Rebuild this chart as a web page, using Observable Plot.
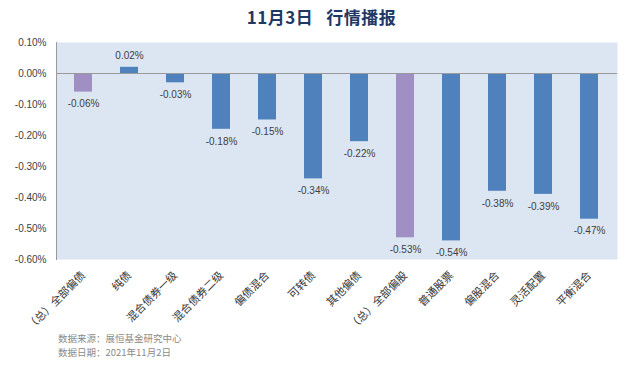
<!DOCTYPE html>
<html>
<head>
<meta charset="utf-8">
<script src="https://cdn.jsdelivr.net/npm/d3@7"></script>
<script src="https://cdn.jsdelivr.net/npm/@observablehq/plot@0.6"></script>
<style>
  html, body { margin: 0; padding: 0; background: #fff; }
  #wrap { position: relative; width: 643px; height: 367px; overflow: hidden; }
  #title { position: absolute; left: 0; top: 6px; width: 643px; text-align: center;
    font-family: "Noto Sans CJK SC", sans-serif; font-weight: bold; font-size: 17px;
    color: #1f3864; line-height: 22px; white-space: pre; letter-spacing: 0.5px; }
  #chart { position: absolute; left: 0; top: 30px; }
  #foot { position: absolute; left: 58px; top: 331px; font-family: "Noto Sans CJK SC", sans-serif;
    font-size: 9.5px; color: #8a8a8a; line-height: 14px; }
</style>
</head>
<body>
<div id="wrap">
  <div id="title">11月3日   行情播报</div>
  <div id="chart"></div>
  <div id="foot">数据来源：展恒基金研究中心<br>数据日期：2021年11月2日</div>
</div>
<script>
const categories = ["（总）全部偏债", "纯债", "混合债券一级", "混合债券二级", "偏债混合", "可转债", "其他偏债", "（总）全部偏股", "普通股票", "偏股混合", "灵活配置", "平衡混合"];
const values = [-0.06, 0.02, -0.03, -0.18, -0.15, -0.34, -0.22, -0.53, -0.54, -0.38, -0.39, -0.47];
const yTicks = [0.1, 0, -0.1, -0.2, -0.3, -0.4, -0.5, -0.6];

const data = categories.map((name, i) => ({name, value: values[i], total: name.startsWith("（总）")}));
const fmt = d => d.toFixed(2) + "%";
const numFont = "Liberation Sans, Arial, sans-serif";

const chart = Plot.plot({
  width: 643,
  height: 304,
  marginLeft: 56,
  marginRight: 26,
  marginTop: 12,
  marginBottom: 75,
  x: {domain: categories, paddingInner: 0.6, paddingOuter: 0.3, label: null},
  y: {domain: [-0.6, 0.1], label: null},
  marks: [
    Plot.frame({fill: "#dce6f2", stroke: null}),
    Plot.barY(data, {x: "name", y: "value", fill: d => d.total ? "#a08fc2" : "#4f81bd"}),
    Plot.ruleY([0], {stroke: "#9a9a9a", strokeWidth: 1}),
    Plot.frame({anchor: "left", stroke: "#9a9a9a"}),
    Plot.text(data.filter(d => d.value < 0), {x: "name", y: "value", text: d => fmt(d.value),
      dy: 12, fontSize: 10, fontFamily: numFont, fill: "#404040", lineAnchor: "middle"}),
    Plot.text(data.filter(d => d.value >= 0), {x: "name", y: "value", text: d => fmt(d.value),
      dy: -12, fontSize: 10, fontFamily: numFont, fill: "#404040", lineAnchor: "middle"}),
    Plot.axisY({ticks: yTicks, tickFormat: fmt, tickSize: 0, tickPadding: 10,
      fontSize: 10, fontFamily: numFont, fill: "#404040"}),
    Plot.axisX({tickRotate: -45, tickSize: 0, tickPadding: 14, fontSize: 11,
      fontFamily: "Noto Sans CJK SC, sans-serif", fill: "#333"})
  ]
});
document.getElementById("chart").appendChild(chart);
</script>
</body>
</html>
